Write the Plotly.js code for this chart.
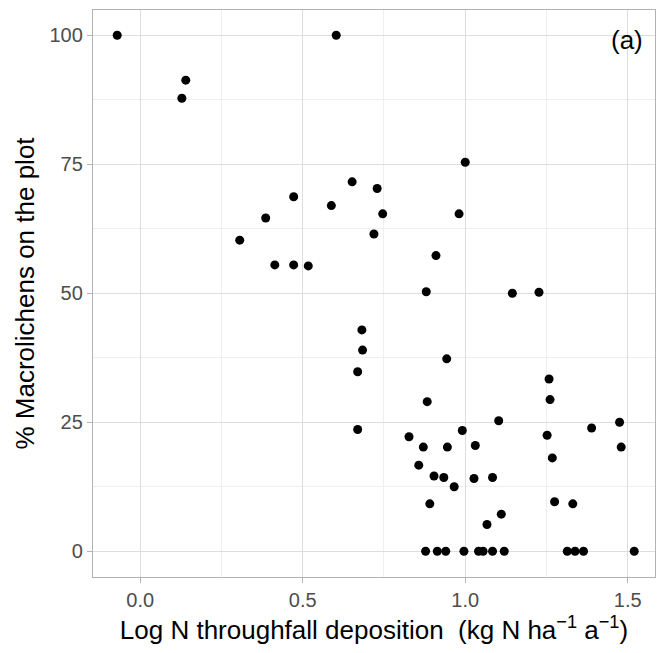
<!DOCTYPE html>
<html><head><meta charset="utf-8">
<script src="https://cdn.plot.ly/plotly-3.0.1.min.js"></script>
<style>html,body{margin:0;padding:0;background:#fff}#chart{width:658px;height:653px}</style>
</head><body><div id="chart"></div>
<script>
const logN = [-0.071,0.140,0.128,0.603,0.652,0.472,0.588,0.386,0.306,0.414,0.472,0.517,
  0.729,0.746,0.719,1.000,0.981,0.910,0.880,1.145,1.227,
  0.682,0.684,0.669,0.669,
  0.943,0.883,0.827,0.871,0.945,0.991,1.031,1.103,0.857,0.904,0.934,0.966,1.027,1.084,0.891,1.067,1.111,
  0.878,0.914,0.940,0.996,1.041,1.055,1.084,1.120,1.314,1.338,1.364,1.520,
  1.258,1.261,1.252,1.268,1.275,1.331,1.389,1.475,1.480];
const macro = [100,91.3,87.8,100,71.6,68.7,67.0,64.6,60.3,55.5,55.5,55.3,
  70.3,65.4,61.5,75.4,65.4,57.3,50.3,50.0,50.2,
  42.9,39.0,34.8,23.6,
  37.3,29.0,22.2,20.2,20.2,23.4,20.5,25.3,16.7,14.6,14.3,12.5,14.1,14.3,9.2,5.2,7.2,
  0,0,0,0,0,0,0,0,0,0,0,0,
  33.4,29.4,22.5,18.1,9.6,9.2,23.9,25.0,20.2];
const xTicks = [0.0,0.5,1.0,1.5];
const xTickText = ['0.0','0.5','1.0','1.5'];
const yTicks = [0,25,50,75,100];
const yTickText = ['0','25','50','75','100'];

const FONT = 'Liberation Sans, Arial, sans-serif';
const trace = {x: logN, y: macro, type:'scatter', mode:'markers',
  marker:{color:'#000000', size:9}, hoverinfo:'x+y'};
const axBase = {showline:true, mirror:true, linecolor:'#b3b3b3', linewidth:1.2,
  ticks:'outside', ticklen:5, tickcolor:'#b3b3b3', tickwidth:1.2,
  gridcolor:'#dedede', gridwidth:1, zeroline:false,
  tickfont:{family:FONT, size:20, color:'#4d4d4d'}};
const layout = {
  width:658, height:653, paper_bgcolor:'#fff', plot_bgcolor:'#fff',
  margin:{l:93, r:3, t:10, b:76},
  showlegend:false,
  xaxis: Object.assign({}, axBase, {range:[-0.1455,1.584], tickvals:xTicks, ticktext:xTickText,
    minor:{dtick:0.25, tick0:0, showgrid:true, gridcolor:'#efefef', gridwidth:1, ticks:''},
    title:{text:'Log N throughfall deposition  (kg N ha<sup>\u22121</sup> a<sup>\u22121</sup>)', standoff:10,
      font:{family:FONT, size:26, color:'#000'}}}),
  yaxis: Object.assign({}, axBase, {range:[-4.98,104.9], tickvals:yTicks, ticktext:yTickText,
    minor:{dtick:12.5, tick0:0, showgrid:true, gridcolor:'#efefef', gridwidth:1, ticks:''},
    title:{text:'% Macrolichens on the plot', standoff:7,
      font:{family:FONT, size:26, color:'#000'}}}),
  annotations:[{text:'(a)', x:1.498, y:99.1, xref:'x', yref:'y', showarrow:false,
    font:{family:FONT, size:26, color:'#000'}}]
};
Plotly.newPlot('chart',[trace],layout,{displayModeBar:false, staticPlot:true});
</script></body></html>
